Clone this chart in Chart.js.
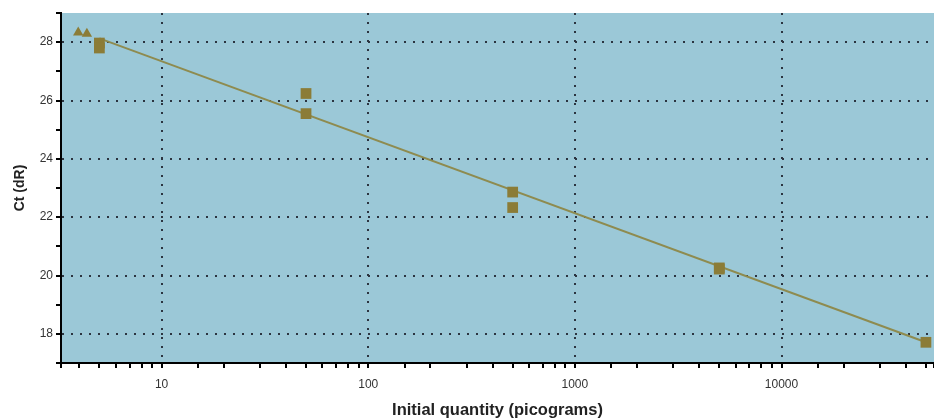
<!DOCTYPE html>
<html>
<head>
<meta charset="utf-8">
<script src="https://cdn.jsdelivr.net/npm/chart.js@4/dist/chart.umd.min.js"></script>
<style>
  html, body { margin: 0; padding: 0; background: #fff; }
  #wrap { width: 934px; height: 420px; }
</style>
</head>
<body>
<div id="wrap"><canvas id="stdCurve"></canvas></div>
<script>
// unknowns (triangles)
const unknownQty = [3.95, 4.35];
const unknownCt = [28.33, 28.29];

// standards (squares)
const stdQty = [5, 5, 50, 50, 500, 500, 5000, 5000, 50000];
const stdCt = [27.97, 27.8, 26.24, 25.55, 22.86, 22.33, 20.26, 20.22, 17.71];

// fitted line ends
const fitQty = [5, 50000];
const fitCt = [28.13, 17.71];

const xMin = 3.26, xMax = 54700;
const yMin = 17, yMax = 29;

const toPoints = (xs, ys) => xs.map((x, i) => ({ x: x, y: ys[i] }));

const isDecade = (v) => {
  const l = Math.log10(v);
  return Math.abs(l - Math.round(l)) < 1e-9;
};

const plotBg = {
  id: "plotBg",
  beforeDraw(chart) {
    const { ctx, chartArea: a } = chart;
    ctx.save();
    ctx.fillStyle = "#9bc8d7";
    ctx.fillRect(a.left, a.top, a.right - a.left, a.bottom - a.top);
    ctx.restore();
  },
};

const ctx = document.getElementById("stdCurve").getContext("2d");

new Chart(ctx, {
  type: "scatter",
  data: {
    datasets: [
      {
        label: "fit",
        data: toPoints(fitQty, fitCt),
        showLine: true,
        borderColor: "#8e8b4f",
        borderWidth: 2,
        pointRadius: 0,
        order: 3,
      },
      {
        label: "Standards",
        data: toPoints(stdQty, stdCt),
        pointStyle: "rect",
        pointRadius: 7.6,
        backgroundColor: "#8b7c37",
        borderColor: "#8b7c37",
        borderWidth: 0,
        order: 1,
      },
      {
        label: "Unknowns",
        data: toPoints(unknownQty, unknownCt),
        pointStyle: "triangle",
        pointRadius: 6,
        backgroundColor: "#8b7c37",
        borderColor: "#8b7c37",
        borderWidth: 0,
        order: 2,
      },
    ],
  },
  options: {
    responsive: true,
    maintainAspectRatio: false,
    animation: false,
    layout: { autoPadding: false, padding: { top: 13, right: 0, left: 0, bottom: 0 } },
    plugins: {
      legend: { display: false },
      tooltip: { enabled: false },
    },
    scales: {
      x: {
        type: "logarithmic",
        min: xMin,
        max: xMax,
        afterFit: (s) => { s.height = 57; s.paddingLeft = 0; s.paddingRight = 0; },
        border: { display: true, color: "#000", width: 2, dash: [2, 7] },
        grid: {
          color: (c) => (c.tick && isDecade(c.tick.value) ? "#2b3440" : "transparent"),
          lineWidth: 2,
          tickColor: "#000",
          tickLength: 5,
          tickWidth: 2,
        },
        ticks: {
          autoSkip: false,
          maxRotation: 0,
          color: "#333",
          font: { family: "Liberation Sans", size: 12 },
          padding: 9,
          callback: (v) => (isDecade(v) ? String(Math.round(v)) : ""),
        },
        title: {
          display: true,
          text: "Initial quantity (picograms)",
          color: "#222",
          font: { family: "Liberation Sans", size: 16.5, weight: "bold" },
          padding: { top: 4, bottom: 0 },
        },
      },
      y: {
        min: yMin,
        max: yMax,
        afterFit: (s) => { s.width = 61; s.paddingTop = 0; s.paddingBottom = 0; },
        border: { display: true, color: "#000", width: 2, dash: [2, 7] },
        grid: {
          color: (c) => (c.tick && c.tick.value % 2 === 0 ? "#2b3440" : "transparent"),
          lineWidth: 2,
          tickColor: "#000",
          tickLength: 5,
          tickWidth: 2,
        },
        ticks: {
          stepSize: 1,
          color: "#333",
          font: { family: "Liberation Sans", size: 12 },
          padding: 3,
          callback: (v) => (v % 2 === 0 ? String(v) : ""),
        },
        title: {
          display: true,
          text: "Ct (dR)",
          color: "#222",
          font: { family: "Liberation Sans", size: 14, weight: "bold" },
          padding: { top: 12, bottom: 0 },
        },
      },
    },
  },
  plugins: [plotBg],
});
</script>
</body>
</html>
